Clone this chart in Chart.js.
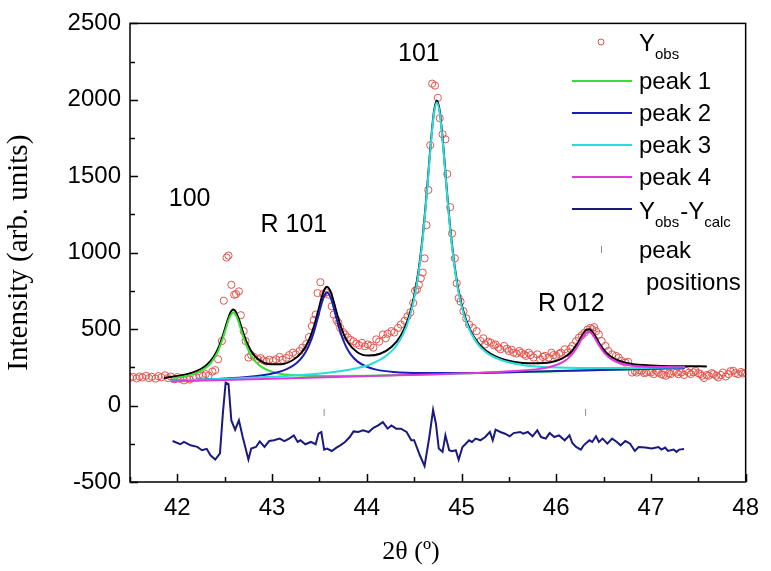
<!DOCTYPE html>
<html>
<head>
<meta charset="utf-8">
<script src="https://cdn.jsdelivr.net/npm/chart.js@4.4.1/dist/chart.umd.min.js"></script>
<style>
  html, body { margin: 0; padding: 0; background: #fff; }
</style>
</head>
<body>
<canvas id="xrd" width="771" height="571"></canvas>
<script>
// observed pattern (2theta, counts)
const obsTheta = [41.50, 41.53, 41.57, 41.60, 41.63, 41.67, 41.70, 41.73, 41.77, 41.80, 41.83, 41.87, 41.90, 41.93, 41.97, 42.00, 42.03, 42.07, 42.10, 42.13,
  42.17, 42.20, 42.23, 42.27, 42.30, 42.33, 42.37, 42.40, 42.43, 42.47, 42.49, 42.52, 42.54, 42.57, 42.60, 42.62, 42.65, 42.67, 42.70, 42.72,
  42.75, 42.78, 42.81, 42.85, 42.88, 42.91, 42.94, 42.97, 43.01, 43.04, 43.08, 43.11, 43.15, 43.18, 43.22, 43.25, 43.29, 43.32, 43.36, 43.39,
  43.42, 43.44, 43.46, 43.48, 43.51, 43.54, 43.57, 43.60, 43.63, 43.65, 43.68, 43.70, 43.72, 43.75, 43.77, 43.80, 43.83, 43.86, 43.89, 43.92,
  43.95, 43.98, 44.01, 44.04, 44.07, 44.10, 44.13, 44.17, 44.20, 44.22, 44.26, 44.29, 44.33, 44.36, 44.40, 44.43, 44.46, 44.49, 44.51, 44.53,
  44.55, 44.57, 44.59, 44.61, 44.63, 44.65, 44.67, 44.69, 44.72, 44.75, 44.77, 44.80, 44.83, 44.85, 44.88, 44.90, 44.93, 44.95, 44.97, 44.99,
  45.02, 45.05, 45.08, 45.12, 45.16, 45.20, 45.23, 45.25, 45.28, 45.31, 45.34, 45.36, 45.39, 45.41, 45.45, 45.48, 45.50, 45.53, 45.55, 45.58,
  45.61, 45.63, 45.66, 45.68, 45.71, 45.73, 45.76, 45.80, 45.83, 45.86, 45.88, 45.92, 45.95, 45.97, 46.00, 46.03, 46.05, 46.09, 46.12, 46.15,
  46.17, 46.21, 46.24, 46.27, 46.30, 46.33, 46.36, 46.38, 46.40, 46.42, 46.45, 46.48, 46.52, 46.55, 46.59, 46.63, 46.66, 46.69, 46.73, 46.76,
  46.80, 46.83, 46.85, 46.88, 46.90, 46.93, 46.95, 46.98, 47.00, 47.03, 47.06, 47.08, 47.11, 47.13, 47.16, 47.19, 47.21, 47.24, 47.27, 47.29,
  47.32, 47.35, 47.37, 47.40, 47.42, 47.45, 47.47, 47.50, 47.52, 47.54, 47.56, 47.59, 47.61, 47.64, 47.66, 47.69, 47.71, 47.74, 47.76, 47.79,
  47.82, 47.84, 47.87, 47.89, 47.92, 47.95, 47.97, 48.00];
const obsCounts = [182, 188, 178, 190, 184, 195, 180, 188, 176, 192, 185, 198, 180, 190, 172, 186, 176, 165, 182, 170,
  190, 184, 200, 195, 206, 196, 222, 232, 303, 422, 686, 968, 981, 790, 725, 729, 747, 591, 487, 422,
  314, 330, 318, 303, 310, 296, 288, 300, 292, 303, 318, 300, 312, 330, 346, 335, 357, 379, 402, 448,
  520, 560, 595, 736, 807, 730, 740, 725, 649, 595, 560, 541, 508, 480, 465, 445, 430, 420, 405, 395,
  410, 388, 400, 392, 379, 433, 418, 465, 440, 470, 487, 478, 508, 530, 555, 584, 610, 671, 751, 760,
  790, 833, 870, 963, 1180, 1411, 1703, 2106, 2093, 2013, 1880, 1775, 1742, 1515, 1298, 1125, 963, 800, 703, 680,
  617, 570, 530, 508, 487, 422, 440, 400, 418, 411, 395, 400, 380, 368, 390, 372, 357, 365, 346, 340,
  357, 345, 335, 325, 346, 330, 314, 335, 303, 318, 325, 314, 346, 330, 325, 338, 346, 368, 346, 372,
  390, 422, 444, 460, 476, 497, 508, 500, 513, 487, 465, 422, 390, 357, 335, 325, 314, 292, 281, 286,
  216, 225, 216, 230, 227, 212, 216, 222, 216, 206, 227, 215, 206, 200, 195, 210, 206, 222, 216, 205,
  216, 200, 227, 215, 206, 218, 227, 212, 206, 195, 180, 200, 195, 212, 206, 195, 184, 200, 216, 190,
  206, 225, 227, 212, 206, 220, 210, 215];

// fitted peaks (each on the linear background)
const p1Theta = [41.95, 42.18, 42.28, 42.35, 42.42, 42.48, 42.51, 42.54, 42.56, 42.59, 42.62, 42.64, 42.67, 42.70, 42.73, 42.78, 42.83, 42.90, 43.00, 43.10, 43.28, 43.58, 44.00, 45.00, 46.00, 47.36];
const p1Y = [178, 207, 238, 276, 343, 439, 499, 558, 588, 608, 589, 559, 501, 442, 391, 326, 284, 248, 221, 207, 197, 193, 195, 209, 224, 246];

const p2Theta = [41.93, 42.50, 42.88, 43.06, 43.16, 43.26, 43.33, 43.38, 43.43, 43.46, 43.49, 43.52, 43.55, 43.58, 43.61, 43.64, 43.67, 43.70, 43.73, 43.78, 43.83, 43.90, 44.00, 44.10, 44.28, 44.58, 45.00, 46.00, 47.36];
const p2Y = [162, 177, 197, 218, 240, 279, 327, 381, 459, 521, 591, 662, 717, 739, 719, 664, 594, 525, 464, 387, 335, 289, 254, 235, 220, 213, 213, 226, 246];

const p3Theta = [41.93, 42.50, 43.00, 43.54, 43.84, 44.04, 44.22, 44.32, 44.42, 44.49, 44.54, 44.59, 44.62, 44.65, 44.68, 44.71, 44.74, 44.77, 44.80, 44.83, 44.86, 44.89, 44.94, 44.99, 45.06, 45.16, 45.26, 45.44, 45.64, 45.94, 46.34, 46.74, 47.36];
const p3Y = [163, 175, 188, 211, 237, 270, 332, 398, 519, 670, 841, 1091, 1287, 1510, 1737, 1914, 1983, 1915, 1739, 1514, 1291, 1096, 847, 678, 529, 412, 348, 293, 266, 250, 245, 245, 251];

const p4Theta = [41.93, 43.00, 44.34, 44.84, 45.34, 45.64, 45.82, 45.92, 46.02, 46.09, 46.14, 46.19, 46.22, 46.25, 46.28, 46.31, 46.34, 46.37, 46.40, 46.43, 46.46, 46.49, 46.54, 46.59, 46.66, 46.76, 46.86, 47.04, 47.36];
const p4Y = [158, 175, 198, 207, 218, 229, 240, 251, 270, 292, 317, 354, 382, 414, 447, 473, 483, 474, 449, 417, 386, 358, 324, 300, 280, 265, 257, 252, 251];

// total calculated profile
const calcTheta = [41.86, 41.95, 42.10, 42.20, 42.30, 42.38, 42.44, 42.49, 42.53, 42.56, 42.59, 42.62, 42.65, 42.69, 42.74, 42.80, 42.88, 42.98, 43.10, 43.22,
  43.31, 43.38, 43.44, 43.49, 43.53, 43.56, 43.58, 43.61, 43.64, 43.68, 43.73, 43.80, 43.90, 44.02, 44.14, 44.26, 44.36, 44.44, 44.50, 44.55,
  44.60, 44.64, 44.68, 44.71, 44.74, 44.77, 44.80, 44.84, 44.88, 44.93, 44.99, 45.08, 45.20, 45.36, 45.56, 45.76, 45.94, 46.06, 46.16, 46.23,
  46.28, 46.32, 46.35, 46.38, 46.42, 46.48, 46.56, 46.66, 46.80, 47.00, 47.20, 47.36, 47.59];
const calcY = [181, 188, 205, 225, 261, 316, 387, 476, 558, 608, 629, 611, 564, 486, 403, 337, 292, 270, 271, 298,
  346, 416, 513, 627, 719, 767, 777, 757, 704, 612, 509, 414, 349, 327, 339, 383, 459, 573, 716, 899,
  1166, 1447, 1749, 1926, 1996, 1928, 1751, 1449, 1168, 901, 689, 509, 392, 321, 285, 277, 284, 307, 352, 413,
  466, 497, 500, 484, 445, 382, 327, 293, 272, 262, 258, 258, 256];

// difference curve Yobs - Ycalc (shifted down)
const diffTheta = [41.95, 42.03, 42.07, 42.14, 42.21, 42.26, 42.31, 42.35, 42.40, 42.45, 42.48, 42.51, 42.54, 42.57, 42.61, 42.65, 42.69, 42.75, 42.78, 42.83,
  42.87, 42.92, 42.97, 43.02, 43.08, 43.13, 43.18, 43.23, 43.27, 43.30, 43.35, 43.41, 43.46, 43.49, 43.52, 43.55, 43.58, 43.63, 43.68, 43.72,
  43.77, 43.82, 43.86, 43.91, 43.96, 44.02, 44.07, 44.12, 44.17, 44.22, 44.26, 44.31, 44.36, 44.42, 44.47, 44.50, 44.56, 44.61, 44.66, 44.70,
  44.73, 44.76, 44.80, 44.83, 44.87, 44.90, 44.94, 44.97, 45.01, 45.04, 45.08, 45.11, 45.15, 45.20, 45.25, 45.30, 45.33, 45.36, 45.41, 45.46,
  45.51, 45.55, 45.62, 45.65, 45.70, 45.75, 45.80, 45.84, 45.89, 45.93, 45.98, 46.03, 46.09, 46.14, 46.17, 46.21, 46.26, 46.29, 46.35, 46.38,
  46.42, 46.45, 46.49, 46.54, 46.59, 46.64, 46.68, 46.73, 46.78, 46.83, 46.87, 46.94, 47.01, 47.08, 47.11, 47.15, 47.18, 47.24, 47.27, 47.30, 47.35];
const diffY = [-232, -253, -238, -260, -270, -292, -283, -325, -353, -313, -54, 151, 141, -97, -158, -97, -206, -353, -281, -271,
  -234, -271, -232, -227, -216, -232, -216, -195, -238, -227, -253, -238, -253, -184, -173, -288, -281, -297, -275, -260,
  -238, -206, -169, -173, -162, -173, -145, -130, -108, -151, -130, -151, -151, -173, -227, -227, -325, -395, -206, -28,
  -119, -281, -303, -195, -292, -299, -292, -355, -271, -253, -227, -238, -216, -227, -206, -173, -227, -158, -173, -184,
  -201, -180, -173, -184, -173, -201, -162, -206, -216, -180, -206, -195, -227, -195, -245, -271, -288, -260, -227, -238,
  -201, -238, -216, -249, -216, -238, -260, -232, -249, -297, -271, -275, -281, -271, -288, -275, -297, -288, -303, -288, -284];

// reflection markers
const posTheta = [43.55, 46.31];
const posY = [-45, -45];

const xTicks = [42, 43, 44, 45, 46, 47, 48];
const yTicks = [-500, 0, 500, 1000, 1500, 2000, 2500];

const peakLabels = [
  { text: "100", x: 42.13, y: 1350 },
  { text: "R 101", x: 43.23, y: 1182 },
  { text: "101", x: 44.55, y: 2299 },
  { text: "R 012", x: 46.16, y: 662 },
];

const obsColor = "#e4534d";
const colors = {
  calc: "#000000",
  p1: "#3ade3a",
  p2: "#1c1cb8",
  p3: "#2adcdc",
  p4: "#dc3adc",
  diff: "#1a1a7e",
  pos: "#8c8c8c",
};

const SANS = "'Liberation Sans', Arial, sans-serif";
const SERIF = "'Liberation Serif', 'Times New Roman', serif";

const pts = (xs, ys) => xs.map((x, i) => ({ x: x, y: ys[i] }));

function curve(label, xs, ys, color, order) {
  return {
    label: label,
    data: pts(xs, ys),
    showLine: true,
    borderColor: color,
    backgroundColor: color,
    borderWidth: 2,
    pointRadius: 0,
    cubicInterpolationMode: "monotone",
    order: order,
  };
}

// draws "Y" + subscript style text runs
function richText(ctx, x, y, parts) {
  let cx = x;
  for (const [txt, sub] of parts) {
    ctx.font = sub ? "15px " + SANS : "24px " + SANS;
    ctx.fillText(txt, cx, sub ? y + 8 : y);
    cx += ctx.measureText(txt).width + (sub ? 1 : 0);
  }
}

const decorations = {
  id: "decorations",
  afterDraw(chart) {
    const { ctx, chartArea: a, scales: { x, y } } = chart;
    ctx.save();

    // frame
    ctx.strokeStyle = "#000";
    ctx.lineWidth = 1.5;
    ctx.strokeRect(a.left, a.top, a.right - a.left, a.bottom - a.top);

    // inward ticks, minor ones included
    ctx.beginPath();
    for (let v = 41.5; v <= 48.001; v += 0.5) {
      const px = Math.round(x.getPixelForValue(v)) + 0.5;
      const len = Math.abs(v - Math.round(v)) < 0.01 ? 8 : 5;
      ctx.moveTo(px, a.bottom);
      ctx.lineTo(px, a.bottom - len);
    }
    for (let v = -500; v <= 2500; v += 250) {
      const py = Math.round(y.getPixelForValue(v)) + 0.5;
      const len = v % 500 === 0 ? 8 : 5;
      ctx.moveTo(a.left, py);
      ctx.lineTo(a.left + len, py);
    }
    ctx.stroke();

    // axis titles
    ctx.fillStyle = "#000";
    ctx.textAlign = "center";
    ctx.textBaseline = "middle";
    ctx.font = "26px " + SERIF;
    ctx.fillText("2\u03b8 (\u00ba)", 411, 552);
    ctx.save();
    ctx.translate(19, (a.top + a.bottom) / 2);
    ctx.rotate(-Math.PI / 2);
    ctx.font = "29px " + SERIF;
    ctx.fillText("Intensity (arb. units)", 0, 0);
    ctx.restore();

    // peak labels
    ctx.font = "25px " + SANS;
    for (const l of peakLabels) {
      ctx.fillText(l.text, x.getPixelForValue(l.x), y.getPixelForValue(l.y));
    }

    // legend
    ctx.textAlign = "left";
    ctx.textBaseline = "alphabetic";
    ctx.strokeStyle = obsColor;
    ctx.lineWidth = 1;
    ctx.beginPath();
    ctx.arc(601, 42, 3, 0, Math.PI * 2);
    ctx.stroke();
    richText(ctx, 639, 51, [["Y", false], ["obs", true]]);

    const rows = [
      ["peak 1", colors.p1],
      ["peak 2", colors.p2],
      ["peak 3", colors.p3],
      ["peak 4", colors.p4],
    ];
    rows.forEach(([name, col], i) => {
      const ly = 81 + i * 32;
      ctx.strokeStyle = col;
      ctx.lineWidth = 2;
      ctx.beginPath();
      ctx.moveTo(572, ly);
      ctx.lineTo(632, ly);
      ctx.stroke();
      ctx.font = "24px " + SANS;
      ctx.fillText(name, 639, ly + 8);
    });
    ctx.strokeStyle = colors.diff;
    ctx.beginPath();
    ctx.moveTo(572, 209);
    ctx.lineTo(632, 209);
    ctx.stroke();
    richText(ctx, 639, 219, [["Y", false], ["obs", true], ["-Y", false], ["calc", true]]);

    ctx.strokeStyle = colors.pos;
    ctx.lineWidth = 1;
    ctx.beginPath();
    ctx.moveTo(601.5, 246);
    ctx.lineTo(601.5, 253);
    ctx.stroke();
    ctx.font = "24px " + SANS;
    ctx.fillText("peak", 639, 258);
    ctx.fillText("positions", 646, 290);

    ctx.restore();
  },
};

new Chart(document.getElementById("xrd"), {
  type: "scatter",
  data: {
    datasets: [
      {
        label: "Yobs",
        data: pts(obsTheta, obsCounts),
        pointStyle: "circle",
        pointRadius: 3.6,
        pointBorderWidth: 1,
        pointBorderColor: obsColor,
        pointBackgroundColor: "rgba(0,0,0,0)",
        showLine: false,
        order: 8,
      },
      curve("Ycalc", calcTheta, calcY, colors.calc, 7),
      curve("peak 1", p1Theta, p1Y, colors.p1, 6),
      curve("peak 2", p2Theta, p2Y, colors.p2, 5),
      curve("peak 3", p3Theta, p3Y, colors.p3, 4),
      curve("peak 4", p4Theta, p4Y, colors.p4, 3),
      {
        label: "Yobs-Ycalc",
        data: pts(diffTheta, diffY),
        showLine: true,
        borderColor: colors.diff,
        borderWidth: 2,
        pointRadius: 0,
        tension: 0,
        order: 2,
      },
      {
        label: "peak positions",
        data: pts(posTheta, posY),
        pointStyle: "line",
        rotation: 90,
        pointRadius: 3.5,
        pointBorderWidth: 1,
        pointBorderColor: colors.pos,
        showLine: false,
        order: 1,
      },
    ],
  },
  options: {
    responsive: false,
    animation: false,
    devicePixelRatio: 1,
    layout: { padding: { top: 20, right: 19, left: 0, bottom: 0 } },
    plugins: { legend: { display: false }, tooltip: { enabled: false } },
    scales: {
      x: {
        type: "linear",
        min: 41.5,
        max: 48,
        afterFit: (s) => { s.height = 89; },
        afterBuildTicks: (s) => { s.ticks = xTicks.map((v) => ({ value: v })); },
        grid: { display: false, drawTicks: false },
        border: { display: false },
        ticks: {
          autoSkip: false,
          maxRotation: 0,
          padding: 12,
          color: "#000",
          font: { family: SANS, size: 24 },
          callback: (v) => String(v),
        },
      },
      y: {
        type: "linear",
        min: -500,
        max: 2500,
        afterFit: (s) => { s.width = 130; },
        afterBuildTicks: (s) => { s.ticks = yTicks.map((v) => ({ value: v })); },
        grid: { display: false, drawTicks: false },
        border: { display: false },
        ticks: {
          autoSkip: false,
          padding: 9,
          color: "#000",
          font: { family: SANS, size: 24 },
          callback: (v) => String(v),
        },
      },
    },
  },
  plugins: [decorations],
});
</script>
</body>
</html>
